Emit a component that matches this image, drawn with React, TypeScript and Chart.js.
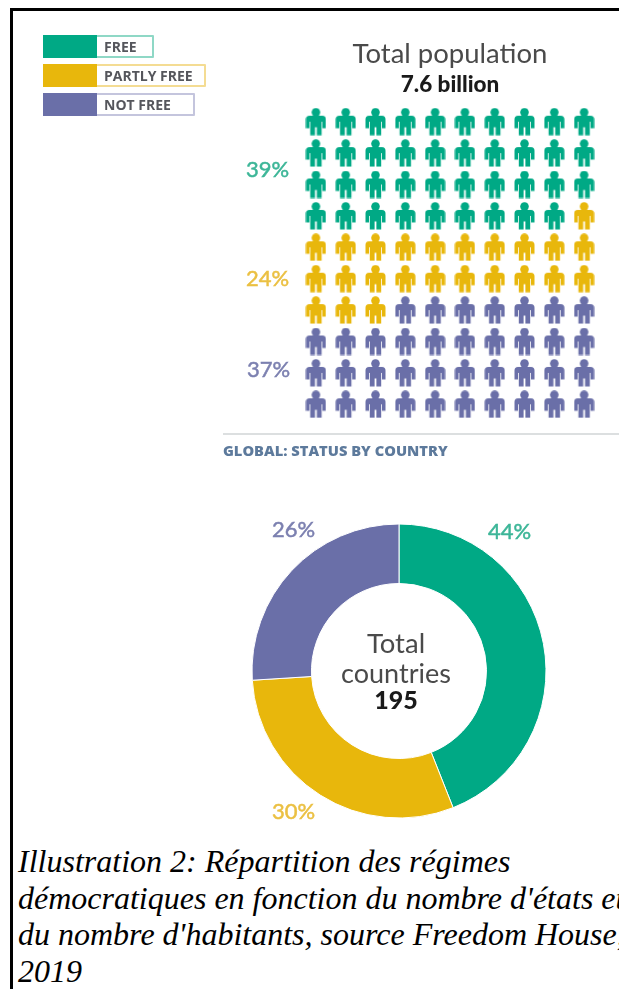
import React, { useEffect, useRef } from "react";
import { Chart, registerables } from "chart.js";

Chart.register(...registerables);

const statuses = ["FREE", "PARTLY FREE", "NOT FREE"];
const statusColors = ["#00A985", "#E8B70C", "#6A6FA8"];
const statusTextColors = ["#3DB698", "#EBC043", "#7C80B0"];
const legendEdgeColors = ["#8FD8C6", "#F4DC93", "#C4C5DD"];
const populationPeople = [39, 24, 37];
const populationLabels = ["39%", "24%", "37%"];
const countryShares = [44, 30, 26];
const countryLabels = ["44%", "30%", "26%"];
const captionLines = [
  "Illustration 2: Répartition des régimes",
  "démocratiques en fonction du nombre d'états et",
  "du nombre d'habitants, source Freedom House,",
  "2019",
];

function personIcon(color: string) {
  const c = document.createElement("canvas");
  c.width = 21;
  c.height = 28;
  const g = c.getContext("2d")!;
  g.fillStyle = color;
  g.beginPath();
  g.arc(10.5, 4.6, 4.3, 0, Math.PI * 2);
  g.fill();
  g.beginPath();
  g.moveTo(4, 8);
  g.lineTo(17, 8);
  g.quadraticCurveTo(20.5, 8, 20.5, 11.5);
  g.lineTo(20.5, 20.5);
  g.lineTo(17, 20.5);
  g.lineTo(17, 14);
  g.lineTo(16.2, 14);
  g.lineTo(16.2, 27.5);
  g.lineTo(11.4, 27.5);
  g.lineTo(11.4, 19.5);
  g.lineTo(9.6, 19.5);
  g.lineTo(9.6, 27.5);
  g.lineTo(4.8, 27.5);
  g.lineTo(4.8, 14);
  g.lineTo(4, 14);
  g.lineTo(4, 20.5);
  g.lineTo(0.5, 20.5);
  g.lineTo(0.5, 11.5);
  g.quadraticCurveTo(0.5, 8, 4, 8);
  g.closePath();
  g.fill();
  return c;
}

const T = (
  text: string,
  left: number,
  top: number,
  size: number,
  color: string,
  weight = 400,
  width?: number,
  family = "Lato, 'Noto Sans', sans-serif",
  stroke = 0,
) => (
  <div
    key={text + left + top}
    style={{
      position: "absolute",
      left,
      top,
      width,
      textAlign: width ? "center" : "left",
      fontSize: size,
      lineHeight: `${size + 2}px`,
      fontWeight: weight,
      color,
      whiteSpace: "nowrap",
      fontFamily: family,
      filter: "blur(0.4px)",
      WebkitTextStroke: stroke ? `${stroke}px ${color}` : undefined,
    }}
  >
    {text}
  </div>
);

export default function App() {
  const pictoRef = useRef<HTMLCanvasElement>(null);
  const donutRef = useRef<HTMLCanvasElement>(null);

  useEffect(() => {
    let index = 0;
    const datasets = statuses.map((s, i) => {
      const data: { x: number; y: number }[] = [];
      for (let n = 0; n < populationPeople[i]; n++, index++) {
        data.push({ x: (index % 10) + 1, y: Math.floor(index / 10) + 1 });
      }
      return {
        label: s,
        data,
        pointStyle: personIcon(statusColors[i]),
        pointRadius: 11,
        clip: false,
        showLine: false,
      };
    });
    const picto = new Chart(pictoRef.current!, {
      type: "scatter",
      data: { datasets: datasets as any },
      options: {
        animation: false,
        responsive: false,
        layout: { padding: 0, autoPadding: false },
        plugins: { legend: { display: false }, tooltip: { enabled: false } },
        scales: {
          x: { display: false, min: 0.5, max: 10.5 },
          y: { display: false, min: 0.5, max: 10.5, reverse: true },
        },
      },
    });
    const donut = new Chart(donutRef.current!, {
      type: "doughnut",
      data: {
        labels: statuses,
        datasets: [
          {
            data: countryShares,
            backgroundColor: statusColors,
            borderColor: "#ffffff",
            borderWidth: 1,
          },
        ],
      },
      options: {
        animation: false,
        responsive: false,
        radius: 147,
        cutout: 89,
        layout: { padding: 0 },
        plugins: { legend: { display: false }, tooltip: { enabled: false } },
      },
    });
    return () => {
      picto.destroy();
      donut.destroy();
    };
  }, []);

  const legendTops = [35, 64, 93];
  const legendWidths = [111, 163, 152];
  const popTops = [157, 266, 357];
  const popLefts = [246, 246, 247];
  const wide = "'Open Sans', sans-serif";

  return (
    <div
      style={{
        position: "fixed",
        left: 0,
        top: 0,
        width: 619,
        height: 989,
        overflow: "hidden",
        background: "#fff",
      }}
    >
      <div style={{ position: "absolute", left: 10, top: 8, width: 620, height: 3, background: "#000" }} />
      <div style={{ position: "absolute", left: 10, top: 8, width: 3, height: 990, background: "#000" }} />

      {statuses.map((s, i) => (
        <div
          key={s}
          style={{
            position: "absolute",
            left: 43,
            top: legendTops[i],
            width: legendWidths[i],
            height: 23,
            boxSizing: "border-box",
            border: `2px solid ${legendEdgeColors[i]}`,
            borderRadius: 1,
          }}
        >
          <div style={{ position: "absolute", left: -2, top: -2, width: 54, height: 23, background: statusColors[i] }} />
          {T(s, 59, 1.5, 14, "#55565C", 700, undefined, wide)}
        </div>
      ))}

      {T("Total population", 300, 38, 27.5, "#4A4A4A", 400, 300)}
      {T("7.6 billion", 300, 72, 22.5, "#1A1A1A", 900, 300)}

      {populationLabels.map((l, i) =>
        T(l, popLefts[i], popTops[i], 22, statusTextColors[i], 400, undefined, undefined, 0.5),
      )}

      <canvas
        ref={pictoRef}
        width={298}
        height={314}
        style={{ position: "absolute", left: 301, top: 106, width: 298, height: 314, filter: "blur(0.5px)" }}
      />

      <div style={{ position: "absolute", left: 223, top: 433, width: 396, height: 2, background: "#DCDFE0" }} />
      {T("GLOBAL: STATUS BY COUNTRY", 223, 442, 14.7, "#5D7A9C", 800, undefined, wide)}

      <canvas
        ref={donutRef}
        width={300}
        height={300}
        style={{ position: "absolute", left: 248.5, top: 521, width: 300, height: 300, filter: "blur(0.4px)" }}
      />

      {T(countryLabels[0], 488, 519, 22, statusTextColors[0], 400, undefined, undefined, 0.5)}
      {T(countryLabels[1], 272, 799, 22, statusTextColors[1], 400, undefined, undefined, 0.5)}
      {T(countryLabels[2], 272, 517, 22, statusTextColors[2], 400, undefined, undefined, 0.5)}

      {T("Total", 296, 628, 27.5, "#4A4A4A", 400, 200)}
      {T("countries", 296, 658, 27, "#4A4A4A", 400, 200)}
      {T("195", 296, 686, 25, "#1A1A1A", 900, 200)}

      <div
        style={{
          position: "absolute",
          left: 18,
          top: 843,
          fontFamily: "'Liberation Serif', serif",
          fontStyle: "italic",
          fontSize: 32,
          lineHeight: "36.7px",
          color: "#000",
          whiteSpace: "nowrap",
        }}
      >
        {captionLines.map((l) => (
          <div key={l}>{l}</div>
        ))}
      </div>
    </div>
  );
}
